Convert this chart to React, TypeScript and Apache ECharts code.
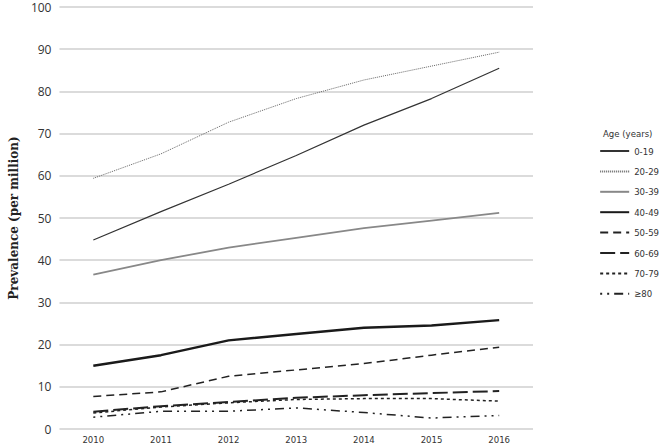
import React, { useEffect, useRef } from "react";
import * as echarts from "echarts";

const years = ["2010", "2011", "2012", "2013", "2014", "2015", "2016"];
const ageGroups = ["0-19", "20-29", "30-39", "40-49", "50-59", "60-69", "70-79", "≥80"];
const v0_19 = [44.8, 51.5, 58.0, 64.8, 72.0, 78.3, 85.5];
const v20_29 = [59.4, 65.2, 72.7, 78.3, 82.7, 86.0, 89.3];
const v30_39 = [36.6, 40.0, 43.0, 45.3, 47.6, 49.4, 51.2];
const v40_49 = [15.0, 17.5, 21.0, 22.5, 24.0, 24.5, 25.8];
const v50_59 = [7.7, 8.8, 12.5, 14.0, 15.5, 17.5, 19.4];
const v60_69 = [4.1, 5.4, 6.4, 7.4, 8.0, 8.5, 9.0];
const v70_79 = [3.8, 5.2, 6.2, 7.0, 7.2, 7.2, 6.6];
const v80 = [2.8, 4.2, 4.2, 5.0, 3.9, 2.6, 3.2];
const yTicks = [0, 10, 20, 30, 40, 50, 60, 70, 80, 90, 100];

const seriesValues = [v0_19, v20_29, v30_39, v40_49, v50_59, v60_69, v70_79, v80];
const styles: any[] = [
  { color: "#333", width: 1.2, type: "solid" },
  { color: "#666", width: 1, type: [1, 1] },
  { color: "#888", width: 1.8, type: "solid" },
  { color: "#1a1a1a", width: 2.5, type: "solid" },
  { color: "#222", width: 1.5, type: [8, 5] },
  { color: "#222", width: 2, type: [15, 5] },
  { color: "#222", width: 1.5, type: [3, 3] },
  { color: "#222", width: 1.5, type: [2, 5, 2, 5, 9, 5] },
];

const condensed = "'DejaVu Sans Condensed', 'Liberation Sans Narrow', 'Roboto Condensed', sans-serif";

export default function App() {
  const ref = useRef<HTMLDivElement>(null);
  useEffect(() => {
    if (!ref.current) return;
    const chart = echarts.init(ref.current, undefined, { renderer: "svg" });
    chart.setOption({
      animation: false,
      backgroundColor: "#fff",
      grid: { left: 45, right: 127, top: 7, bottom: 16 },
      legend: {
        orient: "vertical",
        right: 1,
        top: 145,
        padding: 0,
        align: "left",
        itemWidth: 29,
        itemHeight: 12,
        itemGap: 8.4,
        itemStyle: { color: "transparent", borderWidth: 0, opacity: 0 },
        textStyle: { fontFamily: condensed, fontSize: 9.5, color: "#333", lineHeight: 12, overflow: "none" },
        data: ageGroups,
      },
      graphic: [
        {
          type: "text",
          left: 603,
          top: 128,
          style: { text: "Age (years)", fontFamily: condensed, fontSize: 9.5, fill: "#333" },
        },
      ],
      xAxis: {
        type: "category",
        data: years,
        boundaryGap: true,
        axisLine: { show: false },
        axisTick: { show: false },
        axisLabel: { fontFamily: condensed, fontSize: 9.5, color: "#333", margin: 5 },
      },
      yAxis: {
        type: "value",
        min: 0,
        max: 100,
        interval: 10,
        name: "Prevalence (per million)",
        nameLocation: "middle",
        nameGap: 34,
        nameTextStyle: { fontFamily: "'DejaVu Serif', 'Liberation Serif', serif", fontWeight: "bold", fontSize: 12, color: "#222" },
        axisLine: { show: false },
        axisTick: { show: false },
        splitLine: { lineStyle: { color: "#cfcfcf", width: 1.5 } },
        axisLabel: {
          fontFamily: "'Open Sans', sans-serif",
          fontSize: 12,
          color: "#333",
          margin: 8,
          formatter: (v: number) => (yTicks.includes(v) ? String(v) : ""),
        },
      },
      series: ageGroups.map((name, i) => ({
        name,
        type: "line",
        data: seriesValues[i],
        symbol: "none",
        showSymbol: false,
        itemStyle: { color: styles[i].color },
        lineStyle: { color: styles[i].color, width: styles[i].width, type: styles[i].type },
        z: 10 - i,
      })),
    });
    return () => chart.dispose();
  }, []);
  return <div ref={ref} style={{ width: 660, height: 445, position: "absolute", left: 0, top: 0 }} />;
}
